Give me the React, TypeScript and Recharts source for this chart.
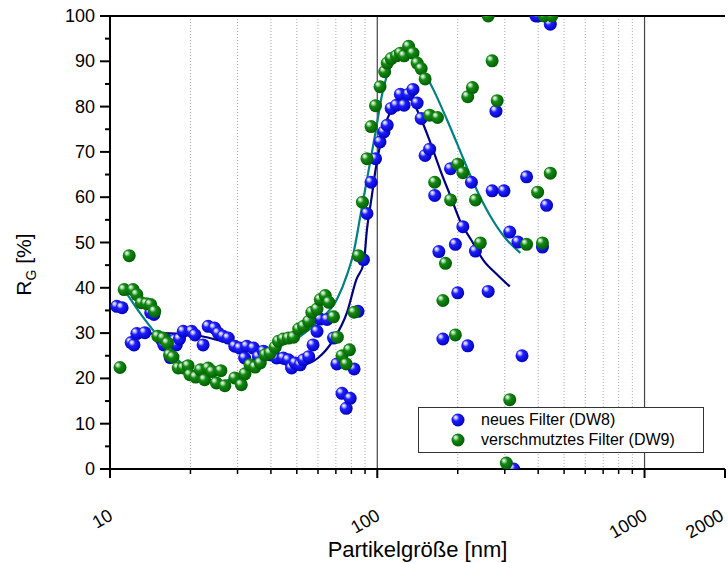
import React from "react";
import {
  ComposedChart,
  Scatter,
  Line,
  XAxis,
  YAxis,
  CartesianGrid,
  ReferenceLine,
  Legend,
} from "recharts";

// particle size [nm], R_G [%]
const NEW_FILTER: [number, number][] = [
  [10.6, 35.9], [11.1, 35.6], [12.0, 27.9], [12.3, 27.4], [12.6, 29.9], [13.5, 30.1],
  [14.2, 34.5], [14.6, 34.1], [15.6, 28.5], [15.9, 27.4], [16.4, 28.4], [16.8, 24.6],
  [17.5, 28.5], [17.7, 27.4], [18.2, 28.7], [18.8, 30.4], [20.2, 30.4], [20.8, 29.6],
  [22.3, 27.4], [23.3, 31.5], [24.6, 31.1], [25.4, 30.0], [26.5, 29.3], [27.7, 28.9],
  [29.3, 27.1], [30.6, 26.7], [31.9, 24.5], [32.5, 27.1], [34.4, 26.7], [35.9, 24.8],
  [37.5, 26.0], [39.7, 25.2], [42.0, 24.5], [44.5, 24.5], [46.5, 24.1], [47.8, 22.3],
  [49.3, 23.4], [51.5, 23.0], [53.0, 24.1], [55.4, 24.8], [57.5, 27.4], [59.5, 30.4],
  [61.2, 33.1], [64.9, 33.0], [68.6, 28.9], [70.6, 23.2], [73.8, 16.7], [76.5, 13.4],
  [79.2, 15.6], [81.9, 22.1], [84.7, 34.8], [88.8, 46.2], [91.5, 56.4], [94.8, 63.3],
  [98.5, 68.5], [102.4, 72.2], [105.9, 74.4], [108.9, 75.9], [112.7, 79.6], [117.9, 80.3],
  [122, 82.7], [126, 80.3], [131, 82.7], [136, 83.8], [141, 80.8], [146, 77.4],
  [151, 69.2], [157, 70.6], [164, 60.4], [170, 48.0], [176, 28.7], [188, 66.3],
  [196, 49.6], [200, 38.9], [209, 53.5], [218, 27.2], [225, 63.3], [233, 48.1],
  [260, 39.2], [269, 61.4], [278, 79.0], [298, 61.4], [313, 52.3], [324, 0],
  [336, 50.1], [348, 25.0], [362, 64.5], [392, 100], [400, 100], [415, 49.0],
  [430, 58.2], [444, 98.2],
];

const DIRTY_FILTER: [number, number][] = [
  [10.9, 22.4], [11.3, 39.6], [11.8, 47.1], [12.2, 39.6], [12.6, 38.5], [13.1, 36.7],
  [13.7, 36.5], [14.2, 36.3], [14.7, 34.8], [15.1, 29.3], [15.8, 28.9], [16.4, 27.8],
  [16.7, 25.2], [17.2, 24.7], [18.0, 22.3], [18.8, 22.3], [19.6, 22.8], [19.9, 20.8],
  [20.9, 20.3], [21.8, 21.9], [22.6, 19.7], [23.3, 22.3], [24.1, 21.5], [25.0, 19.0],
  [26.0, 21.7], [26.9, 18.4], [29.3, 20.1], [31.0, 18.6], [32.0, 21.0], [33.4, 23.0],
  [34.9, 22.5], [36.5, 23.4], [38.1, 25.2], [39.7, 25.6], [41.5, 26.9], [42.7, 28.2],
  [44.5, 28.7], [46.5, 28.9], [48.6, 29.1], [50.8, 30.9], [53.0, 31.5], [55.4, 32.6],
  [56.9, 34.6], [59.5, 35.3], [61.2, 37.4], [63.9, 38.3], [65.9, 36.8], [68.6, 33.6],
  [70.9, 29.1], [73.8, 25.0], [76.5, 23.2], [78.7, 26.3], [81.9, 34.6], [85, 47.1],
  [88, 58.9], [91.5, 68.5], [94.8, 75.6], [98.5, 80.2], [102.4, 84.4], [106.6, 87.7],
  [109, 89.6], [112.7, 90.6], [118, 91.2], [122, 91.8], [126, 91.2], [131, 93.3],
  [136, 91.8], [141, 89.6], [146, 88.4], [151, 86.1], [157, 78.1], [164, 63.3],
  [168, 77.6], [176, 37.2], [180, 45.4], [188, 59.4], [196, 29.6], [200, 67.3],
  [209, 65.4], [218, 82.2], [227, 84.2], [233, 59.4], [243, 49.9], [260, 100],
  [269, 90.1], [281, 81.3], [304, 1.3], [313, 15.3], [362, 49.6], [398, 61.1],
  [415, 49.9], [421, 100], [444, 65.3], [450, 100],
];

// fitted curves
const NEW_FIT: [number, number][] = [
  [12, 29.6], [16, 30], [22, 29.3], [29, 27.4], [39, 24.5], [47, 23], [52, 23],
  [60, 24.5], [68.5, 28.5], [77, 34.5], [83.5, 41.8], [89, 45.5], [91.5, 52.9],
  [95, 59.5], [98.5, 66], [106, 75], [113, 79.4], [122, 82.1], [128, 82.5],
  [136, 81], [146, 77.2], [157, 72.5], [172, 66], [188, 60.2], [205, 54.5],
  [225, 50.5], [250, 46], [280, 43], [313, 40.3],
];

const DIRTY_FIT: [number, number][] = [
  [11.3, 39.6], [13.1, 34], [15.1, 29.3], [17.5, 24.8], [20.2, 21.5], [23.3, 19.7],
  [26, 19.3], [29.3, 20.1], [33, 21.5], [36.5, 23], [43.3, 27.1], [51.5, 29.3],
  [61.2, 33], [70.6, 37.4], [77.2, 43], [81.5, 47.7], [86.4, 55.8], [93, 66.2],
  [98.5, 74.3], [104, 82.4], [112, 89], [122, 92], [129, 91.6], [145, 89],
  [162, 83.8], [182, 77.2], [200, 71.5], [229, 63.2], [265, 55.8], [304, 50.7],
  [343, 47.7],
];

const X_TICKS = [10, 20, 30, 40, 50, 60, 70, 80, 90, 100, 200, 300, 400, 500, 600, 700, 800, 900, 1000, 2000];
const X_LABELS = [10, 100, 1000, 2000];
const X_MINOR_GRID = [20, 30, 40, 50, 60, 70, 80, 90, 200, 300, 400, 500, 600, 700, 800, 900];
const X_MAJOR_GRID = [100, 1000];
const Y_TICKS = [0, 5, 10, 15, 20, 25, 30, 35, 40, 45, 50, 55, 60, 65, 70, 75, 80, 85, 90, 95, 100];
const Y_GRID = [10, 20, 30, 40, 50, 60, 70, 80, 90];

const SERIES_NAMES = ["neues Filter (DW8)", "verschmutztes Filter (DW9)"];

const FONT = "'Liberation Sans', Arial, Helvetica, sans-serif";

const toPoints = (arr: [number, number][]) => arr.map(([x, y]) => ({ x, y }));

function Ball({ cx, cy, grad }: { cx?: number; cy?: number; grad: string }) {
  if (cx == null || cy == null) return null;
  return <circle cx={cx} cy={cy} r={6.5} fill={`url(#${grad})`} />;
}

function BallIcon({ grad }: { grad: string }) {
  return (
    <svg width={14} height={14} style={{ display: "block" }}>
      <Ball cx={7} cy={7} grad={grad} />
    </svg>
  );
}

function XTick(props: any) {
  const { x, y, payload } = props;
  const major = X_LABELS.includes(payload.value);
  // keep the last label inside the page
  const tx = Math.min(x + 4, 725);
  const ty = y + 50;
  return (
    <g>
      <line x1={x} x2={x} y1={y} y2={y + (major ? 9 : 5)} stroke="#000" strokeWidth={major ? 2 : 1.5} />
      {major && (
        <text
          x={tx}
          y={ty}
          transform={`rotate(-30, ${tx}, ${ty})`}
          textAnchor="end"
          fontSize={18}
          fontFamily={FONT}
          fill="#000"
        >
          {payload.value}
        </text>
      )}
    </g>
  );
}

function YTick(props: any) {
  const { x, y, payload } = props;
  const major = payload.value % 10 === 0;
  return (
    <g>
      <line x1={x - (major ? 10 : 5)} x2={x} y1={y} y2={y} stroke="#000" strokeWidth={2} />
      {major && (
        <text x={x - 15} y={y + 6} textAnchor="end" fontSize={18} fontFamily={FONT} fill="#000">
          {payload.value}
        </text>
      )}
    </g>
  );
}

function RightTick(props: any) {
  const { x, y } = props;
  return <line x1={x} x2={x + 4} y1={y} y2={y} stroke="#000" strokeWidth={1.5} />;
}

function YTitle(props: any) {
  const vb = props.viewBox;
  const cx = vb.x + 31;
  const cy = vb.y + vb.height / 2 + 22;
  return (
    <text
      x={cx}
      y={cy}
      transform={`rotate(-90, ${cx}, ${cy})`}
      textAnchor="middle"
      fontSize={21}
      fontFamily={FONT}
      fill="#000"
    >
      R
      <tspan fontSize={14} dy={5}>G</tspan>
      <tspan dy={-5}> [%]</tspan>
    </text>
  );
}

function XTitle(props: any) {
  const vb = props.viewBox;
  return (
    <text
      x={vb.x + vb.width / 2}
      y={vb.y + 88}
      textAnchor="middle"
      fontSize={22}
      fontFamily={FONT}
      fill="#000"
    >
      Partikelgröße [nm]
    </text>
  );
}

function LegendBox() {
  const grads = ["ballBlue", "ballGreen"];
  return (
    <div
      style={{
        border: "1px solid #333",
        background: "#fff",
        padding: "2px 0 2px 32px",
        fontFamily: FONT,
        fontSize: 16,
        color: "#000",
      }}
    >
      {SERIES_NAMES.map((name, i) => (
        <div key={name} style={{ display: "flex", alignItems: "center", height: 20 }}>
          <BallIcon grad={grads[i]} />
          <span style={{ marginLeft: 16 }}>{name}</span>
        </div>
      ))}
    </div>
  );
}

export default function App() {
  return (
    <div style={{ position: "absolute", left: 0, top: 0, width: 728, height: 563, background: "#fff" }}>
      <ComposedChart width={728} height={563} margin={{ top: 16, right: 3, bottom: 0, left: 0 }}>
        <defs>
          <radialGradient id="ballBlue" cx="0.42" cy="0.42" r="0.62" fx="0.3" fy="0.28">
            <stop offset="0" stopColor="#ffffff" />
            <stop offset="0.18" stopColor="#b8b8ff" />
            <stop offset="0.4" stopColor="#1f1fff" />
            <stop offset="1" stopColor="#0000b8" />
          </radialGradient>
          <radialGradient id="ballGreen" cx="0.42" cy="0.42" r="0.62" fx="0.3" fy="0.28">
            <stop offset="0" stopColor="#ffffff" />
            <stop offset="0.18" stopColor="#a8d8a8" />
            <stop offset="0.4" stopColor="#138a13" />
            <stop offset="1" stopColor="#005a00" />
          </radialGradient>
        </defs>
        <CartesianGrid horizontal vertical={false} horizontalValues={Y_GRID} stroke="#7a7a7a" strokeWidth={1.5} />
        <CartesianGrid horizontal={false} vertical verticalValues={X_MINOR_GRID} stroke="#a8a8a8" strokeDasharray="1 2" />
        <CartesianGrid horizontal={false} vertical verticalValues={X_MAJOR_GRID} stroke="#444" strokeWidth={1.2} />
        <XAxis
          dataKey="x"
          type="number"
          scale="log"
          domain={[10, 2000]}
          allowDataOverflow
          ticks={X_TICKS}
          interval={0}
          tick={<XTick />}
          tickLine={false}
          tickSize={0}
          tickMargin={0}
          height={94}
          axisLine={{ stroke: "#000", strokeWidth: 2 }}
          label={<XTitle />}
        />
        <YAxis
          yAxisId="left"
          dataKey="y"
          type="number"
          domain={[0, 100]}
          allowDataOverflow
          ticks={Y_TICKS}
          interval={0}
          tick={<YTick />}
          tickLine={false}
          tickSize={0}
          tickMargin={0}
          width={110}
          axisLine={{ stroke: "#000", strokeWidth: 2 }}
          label={<YTitle />}
        />
        <YAxis
          yAxisId="right"
          orientation="right"
          type="number"
          domain={[0, 100]}
          ticks={Y_TICKS}
          interval={0}
          tick={<RightTick />}
          tickLine={false}
          tickSize={0}
          tickMargin={0}
          width={0}
          axisLine={{ stroke: "#000", strokeWidth: 2 }}
        />
        <ReferenceLine yAxisId="left" y={100} stroke="#000" strokeWidth={2} />
        <Scatter
          yAxisId="left"
          name={SERIES_NAMES[0]}
          data={toPoints(NEW_FILTER)}
          shape={(p: any) => <Ball cx={p.cx} cy={p.cy} grad="ballBlue" />}
          isAnimationActive={false}
        />
        <Scatter
          yAxisId="left"
          name={SERIES_NAMES[1]}
          data={toPoints(DIRTY_FILTER)}
          shape={(p: any) => <Ball cx={p.cx} cy={p.cy} grad="ballGreen" />}
          isAnimationActive={false}
        />
        <Line
          yAxisId="left"
          data={toPoints(NEW_FIT)}
          dataKey="y"
          type="monotone"
          stroke="#000080"
          strokeWidth={2.2}
          dot={false}
          activeDot={false}
          legendType="none"
          isAnimationActive={false}
        />
        <Line
          yAxisId="left"
          data={toPoints(DIRTY_FIT)}
          dataKey="y"
          type="monotone"
          stroke="#008080"
          strokeWidth={2.2}
          dot={false}
          activeDot={false}
          legendType="none"
          isAnimationActive={false}
        />
        <Legend
          layout="vertical"
          verticalAlign="middle"
          align="center"
          content={<LegendBox />}
          wrapperStyle={{ left: 418, top: 407, width: 286, right: "auto", bottom: "auto" }}
        />
      </ComposedChart>
    </div>
  );
}
